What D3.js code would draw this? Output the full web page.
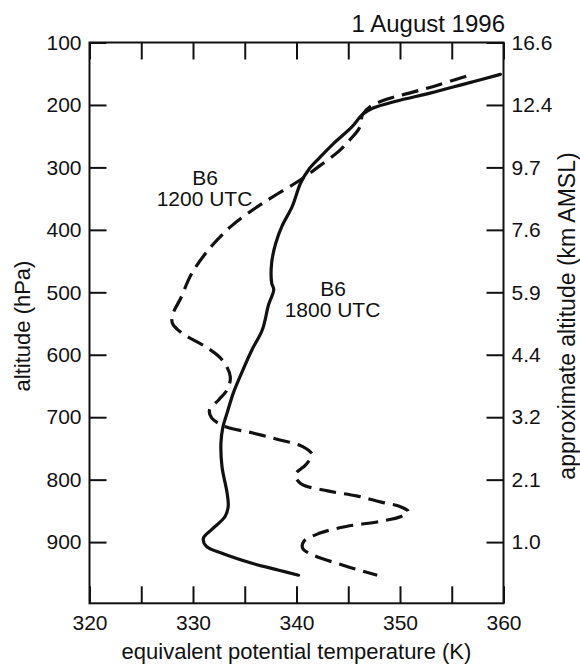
<!DOCTYPE html>
<html>
<head>
<meta charset="utf-8">
<script src="https://cdn.jsdelivr.net/npm/d3@7"></script>
<style>
  body { margin: 0; background: #fff; }
  svg text { font-family: "Liberation Sans", Arial, Helvetica, sans-serif; fill: #111; }
</style>
</head>
<body>
<div id="graf"></div>
<script>
// pressure levels (hPa) and matching approximate altitude labels (km AMSL)
const presTicks = [100, 200, 300, 400, 500, 600, 700, 800, 900]
const kmLabels = ["16.6", "12.4", "9.7", "7.6", "5.9", "4.4", "3.2", "2.1", "1.0"]
const thetaTicks = [320, 325, 330, 335, 340, 345, 350, 355, 360]

// B6 1800 UTC (solid)
const theta1800 = [359.7, 356.1, 352.9, 349.6, 347.4, 346.4, 345.3, 343.5, 342.2, 341.2, 340.4,
  339.6, 338.6, 338.0, 337.6, 337.6, 337.8, 337.3, 336.7, 335.7, 334.7, 333.9, 333.3, 332.9,
  332.7, 332.8, 333.3, 333.4, 333.1, 331.8, 331.0, 331.3, 332.8, 335.7, 338.3, 340.2]
const pres1800 = [151, 167, 181, 194, 205, 215, 236, 263, 285, 303, 325,
  362, 394, 421, 453, 485, 496, 520, 560, 592, 629, 661, 693, 715,
  741, 779, 822, 843, 859, 880, 894, 907, 918, 934, 945, 953]

// B6 1200 UTC (dashed)
const theta1200 = [356.4, 353.7, 350.9, 348.7, 347.1, 346.4, 346.1, 345.2, 344.1, 342.2, 340.9,
  339.9, 338.3, 336.3, 333.7, 331.8, 329.9, 328.8, 328.1, 328.0, 328.9, 331.2, 332.8, 333.6,
  333.3, 332.5, 331.6, 331.8, 333.1, 335.7, 338.3, 340.6, 341.5, 340.9, 339.9, 340.4, 343.0,
  345.8, 348.2, 350.0, 350.8, 350.1, 348.0, 344.8, 342.2, 340.7, 340.6, 341.5, 344.5, 347.8]
const pres1200 = [154, 168, 181, 191, 203, 215, 236, 255, 274, 298, 314,
  325, 341, 362, 394, 426, 469, 510, 533, 549, 565, 587, 608, 635,
  656, 672, 688, 701, 715, 725, 736, 747, 760, 776, 792, 806, 818,
  826, 836, 843, 851, 859, 867, 875, 886, 899, 910, 920, 937, 953]

const graf = d3.select("#graf")

const anchoTotal = 580
const altoTotal = 666
const margins = { top: 42.5, right: 76.5, bottom: 62.7, left: 89.5 }
const ancho = anchoTotal - margins.left - margins.right
const alto = altoTotal - margins.top - margins.bottom

const svg = graf.append("svg")
  .attr("width", anchoTotal)
  .attr("height", altoTotal)

const g = svg.append("g")
  .attr("transform", `translate(${margins.left}, ${margins.top})`)

const x = d3.scaleLinear().domain([320, 360]).range([0, ancho])
const y = d3.scaleLinear().domain([100, 998]).range([0, alto])

const tick = 17
const fs = 21

// axes with inward ticks
const ejeIzq = g.append("g")
  .call(d3.axisLeft(y).tickValues(presTicks).tickSize(-tick).tickPadding(8))
const ejeDer = g.append("g")
  .attr("transform", `translate(${ancho}, 0)`)
  .call(d3.axisRight(y).tickValues(presTicks).tickSize(-tick).tickPadding(8)
    .tickFormat((d, i) => kmLabels[i]))
const ejeAbajo = g.append("g")
  .attr("transform", `translate(0, ${alto})`)
  .call(d3.axisBottom(x).tickValues(thetaTicks).tickSize(-tick).tickPadding(12)
    .tickFormat((d) => (d % 10 === 0 ? d : "")))
const ejeArriba = g.append("g")
  .call(d3.axisTop(x).tickValues(thetaTicks).tickSize(-tick).tickFormat(""))

for (const eje of [ejeIzq, ejeDer, ejeAbajo, ejeArriba]) {
  eje.select(".domain").remove()
  eje.selectAll(".tick line").attr("stroke", "#111").attr("stroke-width", 2)
  eje.selectAll(".tick text").attr("font-size", fs).style("fill", "#111")
}

// frame
g.append("rect")
  .attr("width", ancho)
  .attr("height", alto)
  .attr("fill", "none")
  .attr("stroke", "#111")
  .attr("stroke-width", 2)

const linea = d3.line()
  .x((d) => x(d[0]))
  .y((d) => y(d[1]))
  .curve(d3.curveCatmullRom.alpha(0.5))

g.append("path")
  .datum(d3.zip(theta1800, pres1800))
  .attr("d", linea)
  .attr("fill", "none")
  .attr("stroke", "#111")
  .attr("stroke-width", 3.2)
  .attr("stroke-linecap", "round")

g.append("path")
  .datum(d3.zip(theta1200, pres1200))
  .attr("d", linea)
  .attr("fill", "none")
  .attr("stroke", "#111")
  .attr("stroke-width", 3.2)
  .attr("stroke-dasharray", "17,8")

// labels on the curves
const etiquetas = [
  { t: "B6", xx: 205, yy: 185 },
  { t: "1200 UTC", xx: 204.5, yy: 206 },
  { t: "B6", xx: 333, yy: 296 },
  { t: "1800 UTC", xx: 332.5, yy: 317 },
]
svg.selectAll(".etq")
  .data(etiquetas)
  .enter()
  .append("text")
  .attr("class", "etq")
  .attr("x", (d) => d.xx)
  .attr("y", (d) => d.yy)
  .attr("text-anchor", "middle")
  .attr("font-size", fs)
  .text((d) => d.t)

svg.append("text")
  .attr("x", 505)
  .attr("y", 31.5)
  .attr("text-anchor", "end")
  .attr("font-size", 24)
  .text("1 August 1996")

svg.append("text")
  .attr("x", margins.left + ancho / 2)
  .attr("y", 659)
  .attr("text-anchor", "middle")
  .attr("font-size", 22)
  .text("equivalent potential temperature (K)")

svg.append("text")
  .attr("transform", "translate(30, 326) rotate(-90)")
  .attr("text-anchor", "middle")
  .attr("font-size", 22)
  .text("altitude (hPa)")

svg.append("text")
  .attr("transform", "translate(575, 316) rotate(-90)")
  .attr("text-anchor", "middle")
  .attr("font-size", 23)
  .text("approximate altitude (km AMSL)")
</script>
</body>
</html>
